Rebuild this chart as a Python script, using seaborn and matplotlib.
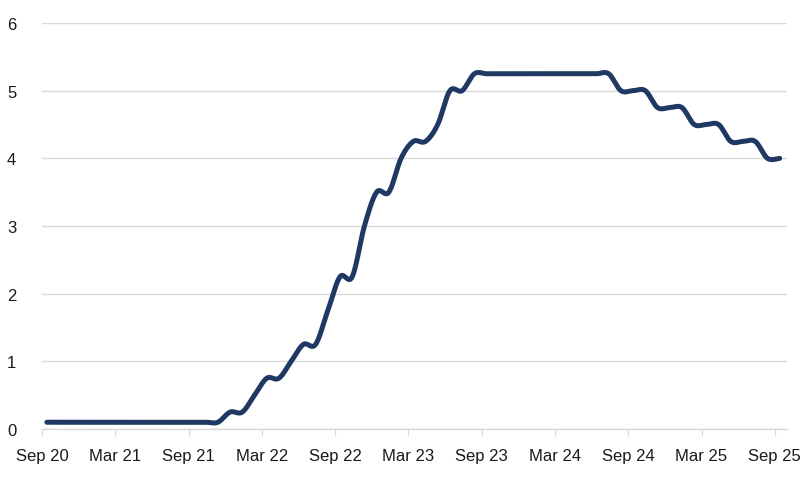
import numpy as np
import pandas as pd
import matplotlib
matplotlib.use("Agg")
import matplotlib.pyplot as plt
import seaborn as sns

# monthly policy rate, Sep 20 .. Sep 25
months = pd.period_range("2020-09", "2025-09", freq="M")
rate = ([0.1] * 15 +
        [0.25, 0.25, 0.5, 0.75, 0.75, 1.0, 1.25, 1.25, 1.75, 2.25, 2.25,
         3.0, 3.5, 3.5, 4.0, 4.25, 4.25, 4.5, 5.0, 5.0] +
        [5.25] * 12 +
        [5.0, 5.0, 5.0, 4.75, 4.75, 4.75, 4.5, 4.5, 4.5, 4.25, 4.25, 4.25, 4.0, 4.0])
tick_labels = ["Sep 20", "Mar 21", "Sep 21", "Mar 22", "Sep 22", "Mar 23",
               "Sep 23", "Mar 24", "Sep 24", "Mar 25", "Sep 25"]

x = np.arange(len(months)) + 0.4
y = np.array(rate)


# Excel-style smoothed line (Catmull-Rom)
def smooth(xs, ys, n=20):
    px = np.concatenate([[xs[0]], xs, [xs[-1]]])
    py = np.concatenate([[ys[0]], ys, [ys[-1]]])
    out_x, out_y = [], []
    t = np.linspace(0, 1, n, endpoint=False)
    for i in range(1, len(px) - 2):
        for p, out in ((px, out_x), (py, out_y)):
            p0, p1, p2, p3 = p[i - 1], p[i], p[i + 1], p[i + 2]
            out.extend(0.5 * ((2 * p1) + (-p0 + p2) * t +
                              (2 * p0 - 5 * p1 + 4 * p2 - p3) * t ** 2 +
                              (-p0 + 3 * p1 - 3 * p2 + p3) * t ** 3))
    out_x.append(xs[-1])
    out_y.append(ys[-1])
    return np.array(out_x), np.array(out_y)


sx, sy = smooth(x, y)
df = pd.DataFrame({"x": sx, "y": sy})

sns.set_style("white")
plt.rcParams["font.family"] = ["Liberation Sans", "DejaVu Sans"]

fig = plt.figure(figsize=(8.11, 4.81), dpi=100)
ax = fig.add_axes([42 / 811, 51 / 481, 745 / 811, 406 / 481])

sns.lineplot(data=df, x="x", y="y", ax=ax, color="#1f3864", linewidth=3.6,
             sort=False, estimator=None)

ax.set_xlim(0, 61)
ax.set_ylim(0, 6)
ax.set_xticks(np.arange(0, 61, 6))
ax.set_xticklabels(tick_labels)
ax.set_yticks(range(0, 7))
ax.yaxis.grid(True, color="#d9d9d9", linewidth=1)
ax.set_axisbelow(True)
for s in ["top", "right", "left"]:
    ax.spines[s].set_visible(False)
ax.spines["bottom"].set_color("#d9d9d9")
ax.spines["bottom"].set_linewidth(1)
ax.tick_params(axis="x", bottom=True, length=5, color="#d9d9d9", labelsize=12,
               labelcolor="#1a1a1a", pad=9)
ax.tick_params(axis="y", left=False, labelsize=12, labelcolor="#1a1a1a", pad=15)
ax.set_xlabel("")
ax.set_ylabel("")

fig.savefig("out.png", dpi=100)
